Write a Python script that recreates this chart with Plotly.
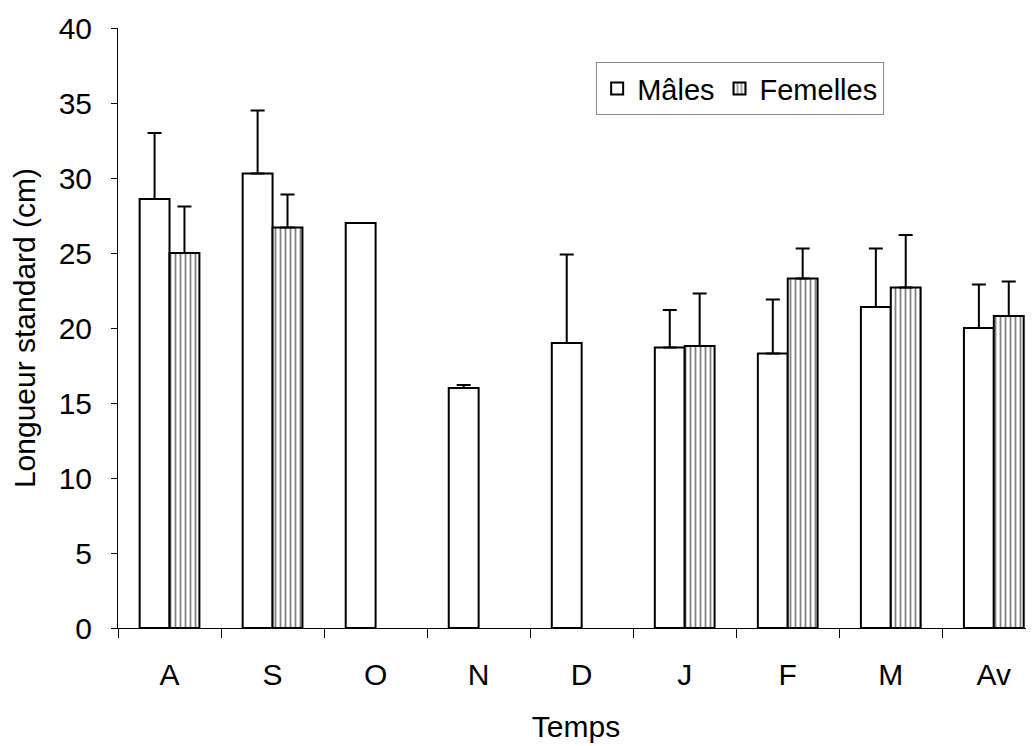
import plotly.graph_objects as go

categories = ["A", "S", "O", "N", "D", "J", "F", "M", "Av"]
males = [28.6, 30.3, 27.0, 16.0, 19.0, 18.7, 18.3, 21.4, 20.0]
males_err = [4.4, 4.2, 0.0, 0.2, 5.9, 2.5, 3.6, 3.9, 2.9]
females = [25.0, 26.7, None, None, None, 18.8, 23.3, 22.7, 20.8]
females_err = [3.1, 2.2, None, None, None, 3.5, 2.0, 3.5, 2.3]

FONT = "Arial, Liberation Sans, Helvetica, sans-serif"

fig = go.Figure()
fig.add_trace(go.Bar(
    name="Mâles", x=categories, y=males,
    marker=dict(color="white", line=dict(color="black", width=2)),
    error_y=dict(type="data", array=males_err, arrayminus=[0] * len(males),
                 symmetric=False, color="black", thickness=2, width=7),
))
fig.add_trace(go.Bar(
    name="Femelles", x=categories, y=females,
    marker=dict(color="white", line=dict(color="black", width=2),
                pattern=dict(shape="|", fgcolor="black", bgcolor="white",
                             size=5, solidity=0.35)),
    error_y=dict(type="data", array=females_err, arrayminus=[0] * len(females),
                 symmetric=False, color="black", thickness=2, width=7),
))

fig.update_layout(
    width=1026, height=738,
    margin=dict(l=110, r=0, t=20, b=118, autoexpand=False),
    paper_bgcolor="white", plot_bgcolor="white",
    font=dict(family=FONT, size=30, color="black"),
    barmode="group", bargap=0.42, bargroupgap=0,
    legend=dict(orientation="h", x=0.522, y=0.943, xanchor="left", yanchor="top",
                bordercolor="#888888", borderwidth=1, bgcolor="white",
                font=dict(size=29), itemwidth=30, tracegroupgap=0),
    xaxis=dict(range=[-0.5, 8.39], showline=True, linecolor="black", linewidth=1,
               ticks="outside", tickson="boundaries", ticklen=9, tickcolor="black",
               showgrid=False, automargin=False, ticklabelstandoff=20,
               title=dict(text="Temps", standoff=25, font=dict(size=30)),
               tickfont=dict(size=30)),
    yaxis=dict(range=[0, 40], dtick=5, showline=True, linecolor="black", linewidth=1,
               ticks="outside", ticklen=6, tickcolor="black", showgrid=False,
               zeroline=False, automargin=False, ticklabelstandoff=13,
               title=dict(text="Longueur standard (cm)", standoff=21, font=dict(size=30)),
               tickfont=dict(size=30)),
)

fig.write_html("out.html")
